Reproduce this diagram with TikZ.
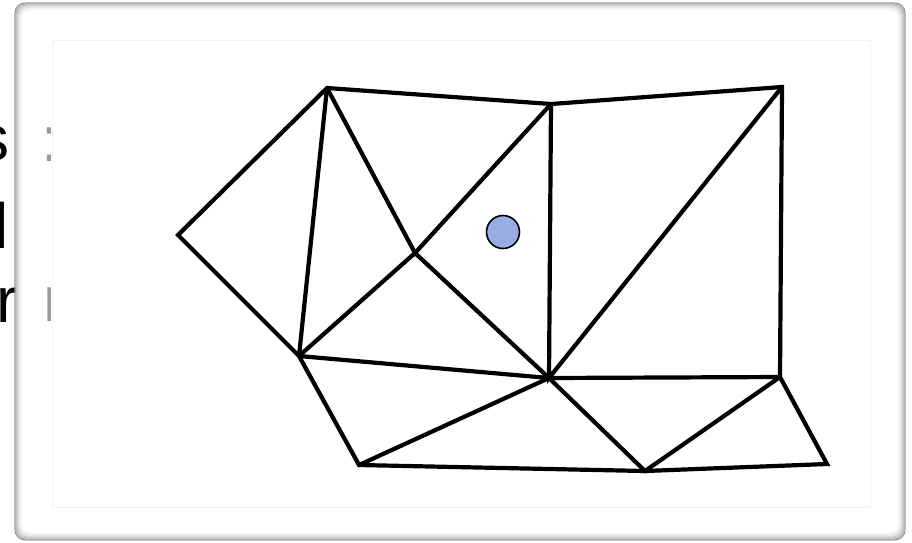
\documentclass[tikz,border=0pt]{standalone}
\usepackage{fontspec}
\setmainfont{Liberation Sans}
\usetikzlibrary{calc}
\definecolor{probeblue}{HTML}{97AEE4}

\begin{document}
\begin{tikzpicture}[x=1pt,y=-1pt,
  mesh/.style={line width=4.2pt},
  probe/.style={circle,draw,line width=1.6pt,fill=probeblue,minimum size=33pt,inner sep=0pt},
  cut/.style={inner sep=0pt,font=\fontsize{64}{64}\selectfont}]
  \useasboundingbox (0,0) rectangle (912,542);
  % text of the slide behind, cut by the frame
  \begin{scope}
    \clip (0,0) rectangle (15,542);
    \node[cut,anchor=base east] (ts) at (10,160) {s};
    \node[cut,anchor=base east] (tl) at (9,248) {l};
    \node[cut,anchor=base west] (tr) at (-4,322) {r};
  \end{scope}
  \begin{scope}
    \clip (46.5,0) rectangle (50.5,542);
    \node[cut,anchor=base west,black!40] (tc) at (41,161) {:};
    \node[cut,anchor=base west,black!40] (tn) at (43,321) {r};
  \end{scope}
  % frame
  \foreach \i/\g in {0/40,1/32,2/25,3/18,4/13,5/8,6/5,7/2}
    \draw[black!\g,line width=1.1pt,rounded corners=10pt] (15+\i,3+\i) rectangle (905-\i,540-\i);
  \draw[black!5,line width=1pt] (52,40) rectangle (870,507);
  % mesh
  \coordinate (A) at (178,235);
  \coordinate (B) at (327,88);
  \coordinate (C) at (551,104);
  \coordinate (D) at (782,87);
  \coordinate (E) at (415,253);
  \coordinate (F) at (299,356);
  \coordinate (G) at (549,378);
  \coordinate (H) at (780,377);
  \coordinate (I) at (359,465);
  \coordinate (J) at (645,471);
  \coordinate (K) at (827,464);
  \draw[mesh] (A) -- (B) -- (C) -- (D) -- (H) -- (K) -- (J) -- (I) -- (F) -- cycle;
  \draw[mesh] (B) -- (F);
  \draw[mesh] (B) -- (E) -- (C);
  \draw[mesh] (F) -- (E) -- (G);
  \draw[mesh] (C) -- (G) -- (D);
  \draw[mesh] (F) -- (G) -- (H);
  \draw[mesh] (I) -- (G) -- (J) -- (H);
  \node[probe] (P) at (503,232) {};
\end{tikzpicture}
\end{document}
